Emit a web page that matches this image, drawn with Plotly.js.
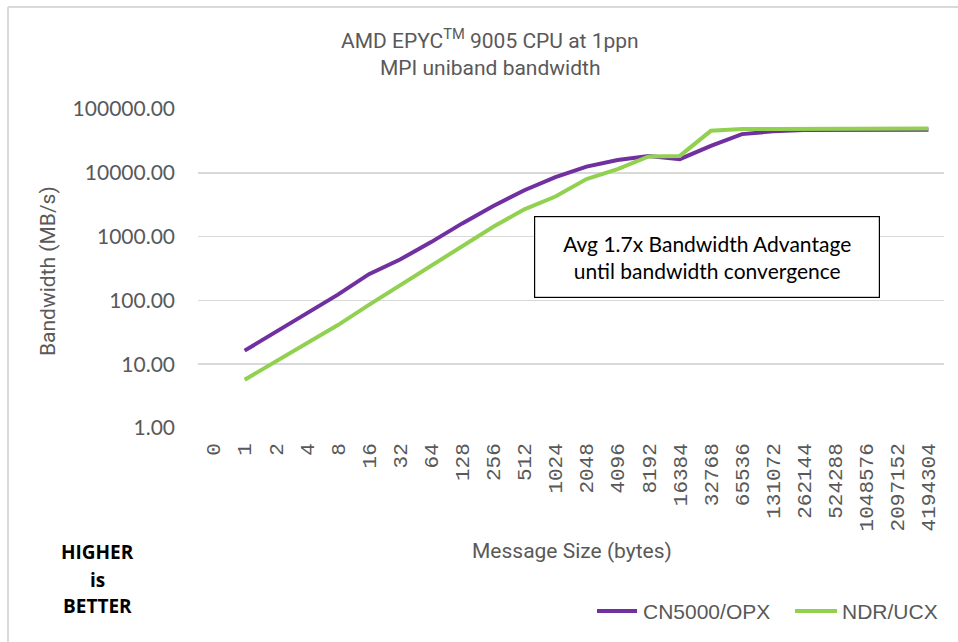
<!DOCTYPE html>
<html>
<head>
<meta charset="utf-8">
<script src="https://cdn.plot.ly/plotly-3.0.1.min.js"></script>
<style>
html,body{margin:0;padding:0;background:#fff;}
#chart{width:958px;height:642px;}
</style>
</head>
<body>
<div id="chart"></div>
<script>
var messageSizes = ['0','1','2','4','8','16','32','64','128','256','512','1024','2048','4096','8192','16384','32768','65536','131072','262144','524288','1048576','2097152','4194304'];
var cn5000 = [null,16.3,32,62,123,258,437,820,1610,3020,5330,8530,12500,15900,18400,16400,26500,40400,44600,46800,47300,47500,47500,47500];
var ndr = [null,5.7,10.9,21.7,41,85,171,352,710,1430,2680,4240,8000,11400,18000,18400,45500,48500,48800,49000,49200,49300,49300,49500];
var yTickVals = [1,10,100,1000,10000,100000];
var yTickText = ['1.00','10.00','100.00','1000.00','10000.00','100000.00'];
var seriesNames = ['CN5000/OPX','NDR/UCX'];
var seriesColors = ['#7030A0','#92D050'];

var L = 198, R = 944, T = 109, B = 428;
function px(x){ return (x - L) / (R - L); }
function py(y){ return (B - y) / (B - T); }

var gray = '#595959';
var traces = [
  {x: messageSizes, y: cn5000, name: seriesNames[0], type: 'scatter', mode: 'lines',
   line: {color: seriesColors[0], width: 4}, connectgaps: false},
  {x: messageSizes, y: ndr, name: seriesNames[1], type: 'scatter', mode: 'lines',
   line: {color: seriesColors[1], width: 4}, connectgaps: false}
];

var titleFont = {family: 'Roboto, sans-serif', size: 21, color: gray};
var boldFont = {family: 'Open Sans, sans-serif', size: 19, color: '#000'};
var legFont = {family: 'Liberation Sans, Arial, sans-serif', size: 21, color: gray};

function ann(x, y, text, font, extra){
  var a = {xref: 'paper', yref: 'paper', x: px(x), y: py(y), xanchor: 'center', yanchor: 'middle',
           text: text, showarrow: false, font: font};
  if (extra) for (var k in extra) a[k] = extra[k];
  return a;
}

var layout = {
  width: 958, height: 642,
  margin: {l: L, r: 958 - R, t: T, b: 642 - B},
  paper_bgcolor: '#fff', plot_bgcolor: '#fff',
  showlegend: false,
  xaxis: {
    type: 'category', categoryorder: 'array', categoryarray: messageSizes,
    tickmode: 'array', tickvals: messageSizes, ticktext: messageSizes,
    range: [-0.5, messageSizes.length - 0.5], showgrid: false, zeroline: false, showline: false,
    tickangle: -90, ticks: '',
    tickfont: {family: 'Liberation Mono, DejaVu Sans Mono, monospace', size: 21, color: gray},
    ticklabelstandoff: 10
  },
  yaxis: {
    type: 'log', range: [0, 5],
    tickmode: 'array', tickvals: yTickVals, ticktext: yTickText,
    showgrid: true, gridcolor: '#d9d9d9', gridwidth: 1.5,
    zeroline: false, showline: false, ticks: '',
    tickfont: {family: 'Lato, sans-serif', size: 21, color: gray},
    ticklabelstandoff: 22
  },
  annotations: [
    ann(490, 39, 'AMD EPYC<sup>TM</sup> 9005 CPU at 1ppn', titleFont),
    ann(490, 68, 'MPI uniband bandwidth', titleFont),
    ann(48, 271, 'Bandwidth (MB/s)', titleFont, {textangle: -90}),
    ann(572, 551, 'Message Size (bytes)', titleFont),
    ann(707, 257, 'Avg 1.7x Bandwidth Advantage<br>until bandwidth convergence',
        {family: 'Lato, sans-serif', size: 21, color: '#000'},
        {bordercolor: '#000', borderwidth: 1.2, borderpad: 0, width: 344, height: 80, bgcolor: '#fff'}),
    ann(97, 552, '<b>HIGHER</b>', boldFont),
    ann(97, 580, '<b>is</b>', boldFont),
    ann(97, 606, '<b>BETTER</b>', boldFont),
    ann(641, 611, seriesNames[0], legFont, {xanchor: 'left'}),
    ann(840, 611, seriesNames[1], legFont, {xanchor: 'left'})
  ],
  shapes: [
    {type: 'line', xref: 'paper', yref: 'paper', x0: px(8), x1: px(960), y0: py(7), y1: py(7),
     line: {color: '#d9d9d9', width: 2}},
    {type: 'line', xref: 'paper', yref: 'paper', x0: px(8), x1: px(8), y0: py(7), y1: py(645),
     line: {color: '#d9d9d9', width: 2}},
    {type: 'line', xref: 'paper', yref: 'paper', x0: px(597), x1: px(637), y0: py(611), y1: py(611),
     line: {color: seriesColors[0], width: 4}},
    {type: 'line', xref: 'paper', yref: 'paper', x0: px(795), x1: px(837), y0: py(611), y1: py(611),
     line: {color: seriesColors[1], width: 4}}
  ]
};

Plotly.newPlot('chart', traces, layout, {displayModeBar: false, staticPlot: true});
</script>
</body>
</html>
